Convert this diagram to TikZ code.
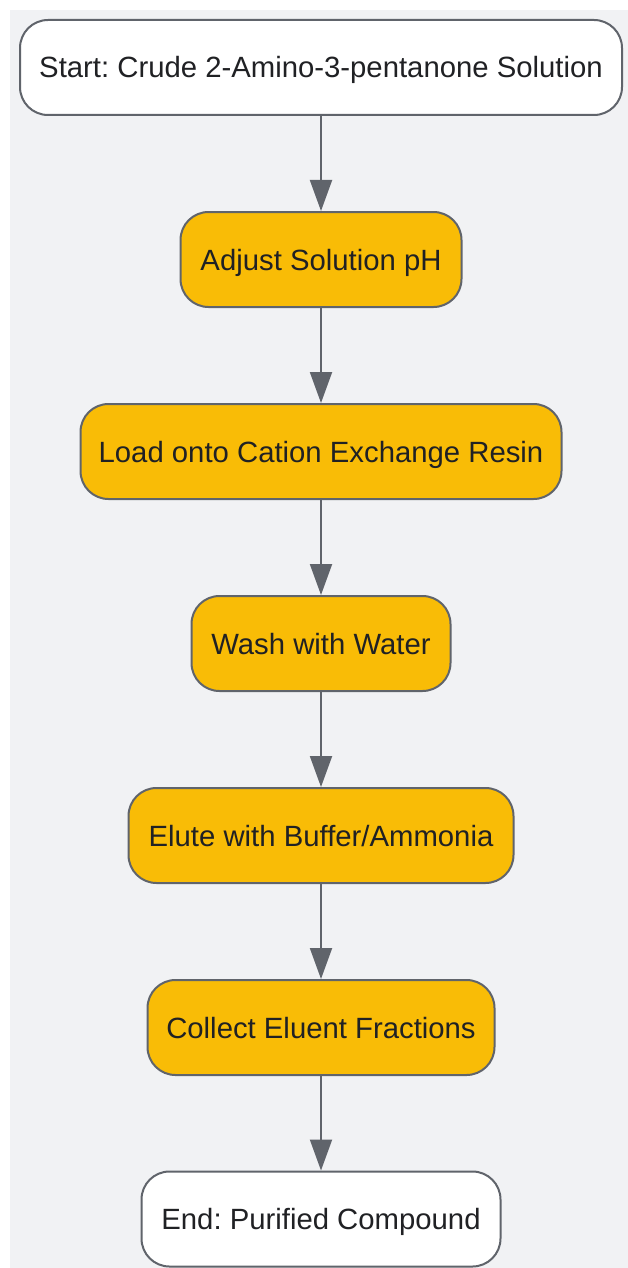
\documentclass[tikz,border=0pt]{standalone}
\usepackage{fontspec}
\setmainfont{Liberation Sans}
\usetikzlibrary{arrows.meta}
\definecolor{bgc}{HTML}{F1F2F4}
\definecolor{linec}{HTML}{60646B}
\definecolor{fillo}{HTML}{F9BC06}
\definecolor{txtc}{HTML}{202124}
\tikzset{
  box/.style={draw=linec, line width=2pt, rounded corners=28pt, minimum height=95pt,
    inner sep=0pt, text height=21pt, text depth=0pt, text=txtc,
    font=\fontsize{29.3}{34}\selectfont\frenchspacing},
  endbox/.style={box, fill=white},
  stepbox/.style={box, fill=fillo},
  conn/.style={draw=linec, line width=2pt, -{Triangle[length=31pt,width=22pt]}}
}
\begin{document}
\begin{tikzpicture}[x=1pt,y=-1pt]
\useasboundingbox (0,0) rectangle (628,1268);
\fill[bgc] (10,10) rectangle (628,1268);
\node[endbox, minimum width=602pt] (s) at (321,67.5) {Start: Crude 2-Amino-3-pentanone Solution};
\node[stepbox, minimum width=281pt] (a) at (321,259.5) {Adjust Solution pH};
\node[stepbox, minimum width=481pt] (l) at (321,451.5) {Load onto Cation Exchange Resin};
\node[stepbox, minimum width=259pt] (w) at (321,643.5) {Wash with Water};
\node[stepbox, minimum width=385pt] (e) at (321,835.5) {Elute with Buffer/Ammonia};
\node[stepbox, minimum width=347pt] (c) at (321,1027.5) {Collect Eluent Fractions};
\node[endbox, minimum width=359pt] (f) at (321,1219) {End: Purified Compound};
\draw[conn] (s) -- (a);
\draw[conn] (a) -- (l);
\draw[conn] (l) -- (w);
\draw[conn] (w) -- (e);
\draw[conn] (e) -- (c);
\draw[conn] (c) -- (f);
\end{tikzpicture}
\end{document}
